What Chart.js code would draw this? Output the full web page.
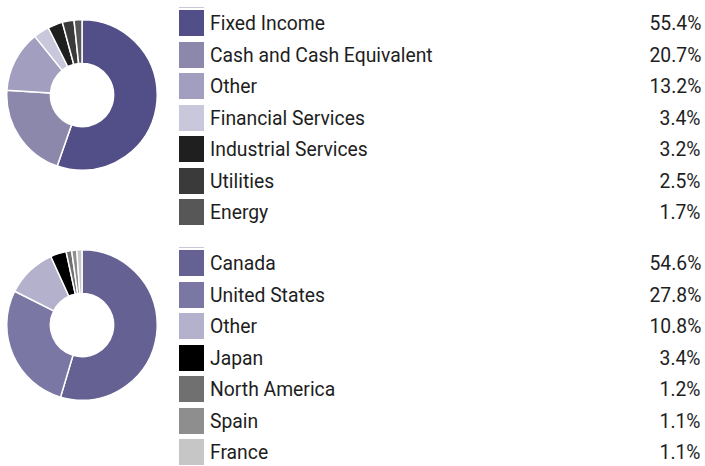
<!DOCTYPE html>
<html>
<head>
<meta charset="utf-8">
<script src="https://cdn.jsdelivr.net/npm/chart.js@4"></script>
<style>
  body { margin: 0; background: #fff; width: 705px; height: 466px; overflow: hidden; position: relative;
         font-family: Roboto, sans-serif; color: #1e1e1e; }
  canvas.donut { position: absolute; }
  .legend { position: absolute; left: 179px; width: 522px; }
  .row { position: relative; height: 31.5px; }
  .box { position: absolute; left: 0; top: 0; width: 25px; height: 26px; }
  .lbl { position: absolute; left: 31px; top: 0; line-height: 26px; font-size: 21px; white-space: nowrap;
         transform: scaleX(0.92); transform-origin: left center; }
  .val { position: absolute; right: 0; top: 0; line-height: 26px; font-size: 21px;
         transform: scaleX(0.92); transform-origin: right center; }
  .topline { position: absolute; left: 0; top: -3px; width: 25px; height: 1px; background: #c9c7db; }
</style>
</head>
<body>
<canvas id="sector" class="donut" width="152" height="152" style="left:6px;top:19px"></canvas>
<canvas id="region" class="donut" width="152" height="152" style="left:6px;top:249px"></canvas>
<div id="legSector" class="legend" style="top:10px"></div>
<div id="legRegion" class="legend" style="top:250px"></div>
<script>
const sectorLabels = ['Fixed Income', 'Cash and Cash Equivalent', 'Other', 'Financial Services', 'Industrial Services', 'Utilities', 'Energy'];
const sectorValues = [55.4, 20.7, 13.2, 3.4, 3.2, 2.5, 1.7];
const sectorColors = ['#524e87', '#8b88ac', '#a19ebf', '#c9c7db', '#1f1f1f', '#3a3a3a', '#575757'];

const regionLabels = ['Canada', 'United States', 'Other', 'Japan', 'North America', 'Spain', 'France'];
const regionValues = [54.6, 27.8, 10.8, 3.4, 1.2, 1.1, 1.1];
const regionColors = ['#656192', '#7b77a5', '#b4b1cd', '#000000', '#707070', '#8e8e8e', '#c6c6c6'];

function donut(id, labels, values, colors) {
    new Chart(document.getElementById(id).getContext('2d'), {
        type: 'doughnut',
        data: {
            labels: labels,
            datasets: [{
                data: values,
                backgroundColor: colors,
                borderColor: '#ffffff',
                borderWidth: 1.5,
                hoverOffset: 0
            }]
        },
        options: {
            responsive: false,
            animation: false,
            cutout: '42%',
            events: [],
            plugins: { legend: { display: false }, tooltip: { enabled: false } }
        }
    });
}

function legend(id, labels, values, colors) {
    const el = document.getElementById(id);
    labels.forEach((l, i) => {
        const row = document.createElement('div');
        row.className = 'row';
        row.innerHTML = (i === 0 ? '<div class="topline"></div>' : '') +
            '<div class="box" style="background:' + colors[i] + '"></div>' +
            '<div class="lbl">' + l + '</div>' +
            '<div class="val">' + values[i].toFixed(1) + '%</div>';
        el.appendChild(row);
    });
}

donut('sector', sectorLabels, sectorValues, sectorColors);
donut('region', regionLabels, regionValues, regionColors);
legend('legSector', sectorLabels, sectorValues, sectorColors);
legend('legRegion', regionLabels, regionValues, regionColors);
</script>
</body>
</html>
